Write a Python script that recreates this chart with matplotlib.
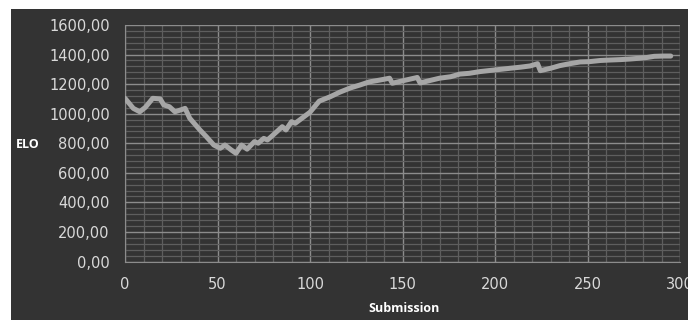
import matplotlib
matplotlib.use("Agg")
import matplotlib.pyplot as plt
from matplotlib.ticker import MultipleLocator, FuncFormatter
from matplotlib.patches import Rectangle

submission = [0, 4.5, 8, 11, 15, 19, 21, 24, 27, 30, 32.5, 35, 40.5, 44, 48, 51.5, 54,
              57.5, 60, 63, 66, 70, 72, 75, 77, 79, 85, 87, 90, 92, 100, 105, 111, 116,
              122, 127, 132, 138, 143, 144.5, 152, 158, 159.5, 165, 170, 176, 181, 186,
              192, 197, 203, 208, 214, 219, 223, 224.5, 230, 235, 239, 246, 251, 257,
              262, 268, 273, 278, 282, 286, 291, 295]
elo = [1104, 1036, 1013, 1043, 1104, 1100, 1059, 1047, 1013, 1025, 1036, 969, 890, 844,
       788, 766, 788, 754, 732, 788, 760, 811, 800, 833, 822, 844, 912, 890, 946, 935,
       1010, 1085, 1115, 1145, 1175, 1194, 1215, 1228, 1240, 1206, 1228, 1245, 1208,
       1225, 1240, 1250, 1268, 1273, 1285, 1292, 1300, 1307, 1315, 1323, 1338, 1291,
       1307, 1325, 1335, 1350, 1352, 1360, 1363, 1366, 1370, 1375, 1380, 1388, 1390,
       1390]

BG = "#333333"
W, H = 688, 320
fig = plt.figure(figsize=(W / 100, H / 100), dpi=100, facecolor="white")
fig.patches.append(Rectangle((11 / W, 0), 1 - 11 / W, 1 - 9 / H,
                             transform=fig.transFigure, facecolor=BG,
                             edgecolor="none", zorder=-10))

ax = fig.add_axes([125 / W, (H - 261.5) / H, (680 - 125) / W, (261.5 - 25) / H])
ax.set_facecolor(BG)
ax.set_xlim(0, 300)
ax.set_ylim(0, 1600)
ax.xaxis.set_major_locator(MultipleLocator(50))
ax.xaxis.set_minor_locator(MultipleLocator(10))
ax.yaxis.set_major_locator(MultipleLocator(200))
ax.yaxis.set_minor_locator(MultipleLocator(40))
ax.yaxis.set_major_formatter(FuncFormatter(lambda v, p: f"{v:.2f}".replace(".", ",")))

ax.grid(which="major", color="#8c8c8c", linewidth=1.0)
ax.grid(which="minor", color="#5e5e5e", linewidth=0.9)
ax.set_axisbelow(True)
for s in ax.spines.values():
    s.set_visible(False)
ax.spines["left"].set_visible(True)
ax.spines["bottom"].set_visible(True)
ax.spines["left"].set_color("#8c8c8c")
ax.spines["bottom"].set_color("#8c8c8c")

ax.tick_params(which="both", length=0, colors="#d9d9d9", labelsize=10.5,
               pad=11)
for lab in ax.get_xticklabels() + ax.get_yticklabels():
    lab.set_family("DejaVu Sans")

ax.plot(submission, elo, color="#a6a6a6", linewidth=3.6, solid_joinstyle="round",
        solid_capstyle="round", zorder=3)

fig.text(28 / W, 1 - 145 / H, "ELO", color="white", fontsize=9, fontweight="bold",
         family="Open Sans", ha="center", va="center")
fig.text(404 / W, 1 - 309 / H, "Submission", color="white", fontsize=9,
         fontweight="bold", family="Open Sans", ha="center", va="center")

fig.savefig("out.png", dpi=100, facecolor="white")
